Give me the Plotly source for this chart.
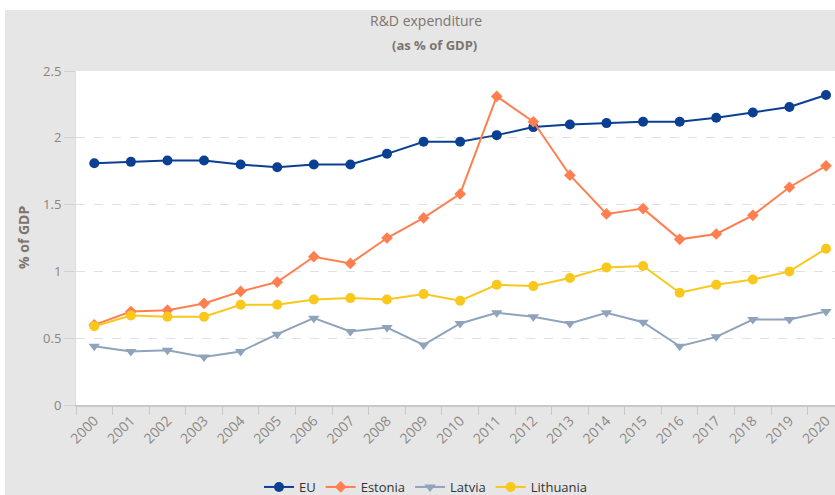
import plotly.graph_objects as go

years = [str(y) for y in range(2000, 2021)]
eu = [1.81, 1.82, 1.83, 1.83, 1.80, 1.78, 1.80, 1.80, 1.88, 1.97, 1.97, 2.02, 2.08, 2.10, 2.11, 2.12, 2.12, 2.15, 2.19, 2.23, 2.32]
estonia = [0.60, 0.70, 0.71, 0.76, 0.85, 0.92, 1.11, 1.06, 1.25, 1.40, 1.58, 2.31, 2.12, 1.72, 1.43, 1.47, 1.24, 1.28, 1.42, 1.63, 1.79]
latvia = [0.44, 0.40, 0.41, 0.36, 0.40, 0.53, 0.65, 0.55, 0.58, 0.45, 0.61, 0.69, 0.66, 0.61, 0.69, 0.62, 0.44, 0.51, 0.64, 0.64, 0.70]
lithuania = [0.59, 0.67, 0.66, 0.66, 0.75, 0.75, 0.79, 0.80, 0.79, 0.83, 0.78, 0.90, 0.89, 0.95, 1.03, 1.04, 0.84, 0.90, 0.94, 1.00, 1.17]
y_ticks = [0, 0.5, 1, 1.5, 2, 2.5]
y_tick_labels = ["0", "0.5", "1", "1.5", "2", "2.5"]

series = [
    ("EU", eu, "#0b3f91", "circle", 10),
    ("Estonia", estonia, "#ff7f50", "diamond", 9),
    ("Latvia", latvia, "#8fa4ba", "triangle-down", 10),
    ("Lithuania", lithuania, "#f8c81c", "circle", 10),
]

fig = go.Figure()
for name, vals, col, sym, sz in series:
    fig.add_trace(go.Scatter(
        x=years, y=vals, name=name, mode="lines+markers",
        line=dict(color=col, width=2),
        marker=dict(color=col, symbol=sym, size=sz, line=dict(width=0)),
        cliponaxis=False,
    ))

W, H = 835, 495
L, R, T, B = 76, 0, 71, 90
pw, ph = W - L - R, H - T - B

def px_x(x):
    return (x - L) / pw

def px_y(y):
    return (H - B - y) / ph

txt_col = "#7d746d"
fig.update_layout(
    width=W, height=H,
    margin=dict(l=L, r=R, t=T, b=B, autoexpand=False),
    paper_bgcolor="#e6e6e6",
    plot_bgcolor="#ffffff",
    font=dict(family="Open Sans, Noto Sans, sans-serif", color=txt_col),
    showlegend=True,
    legend=dict(
        orientation="h", x=px_x(426), xanchor="center", y=px_y(487), yanchor="middle",
        font=dict(size=13, color="#333333"), bgcolor="rgba(0,0,0,0)",
        itemwidth=30, tracegroupgap=0,
    ),
    xaxis=dict(
        type="category", range=[-0.5, 20.5 - (844.3 - 835) / 36.585],
        tickson="boundaries", ticks="outside", ticklen=8, tickcolor="#c8c8c8", tickwidth=1,
        showline=True, linecolor="#c8c8c8", linewidth=2,
        showgrid=False, tickangle=-45,
        tickfont=dict(size=14, color="#8d8884"),
        zeroline=False,
    ),
    yaxis=dict(
        range=[0, 2.5], tickvals=y_ticks, ticktext=y_tick_labels,
        ticks="outside", ticklen=11, tickcolor="#d0d0d0",
        showgrid=True, gridcolor="#e0e0e0", griddash="dash", gridwidth=1,
        showline=True, linecolor="#dcdcdc", linewidth=1,
        zeroline=False,
        tickfont=dict(size=13, color="#8a8580"),
    ),
    shapes=[
        dict(type="rect", xref="paper", yref="paper", x0=px_x(0), x1=px_x(W), y0=px_y(10), y1=px_y(0),
             fillcolor="#ffffff", line=dict(width=0), layer="above"),
        dict(type="rect", xref="paper", yref="paper", x0=px_x(0), x1=px_x(5), y0=px_y(H), y1=px_y(0),
             fillcolor="#ffffff", line=dict(width=0), layer="above"),
    ],
    annotations=[
        dict(text="R&D expenditure", xref="paper", yref="paper", x=px_x(426), y=px_y(20),
             xanchor="center", yanchor="middle", showarrow=False,
             font=dict(size=14, color=txt_col)),
        dict(text="<b>(as % of GDP)</b>", xref="paper", yref="paper", x=px_x(434), y=px_y(45),
             xanchor="center", yanchor="middle", showarrow=False,
             font=dict(size=13, color=txt_col)),
        dict(text="<b>% of GDP</b>", xref="paper", yref="paper", x=px_x(23), y=px_y(238),
             xanchor="center", yanchor="middle", showarrow=False, textangle=-90,
             font=dict(size=14, color=txt_col)),
    ],
)

fig.write_html("out.html", config={"displayModeBar": False},
               post_script="document.body.style.margin='0';document.body.style.overflow='hidden';")
